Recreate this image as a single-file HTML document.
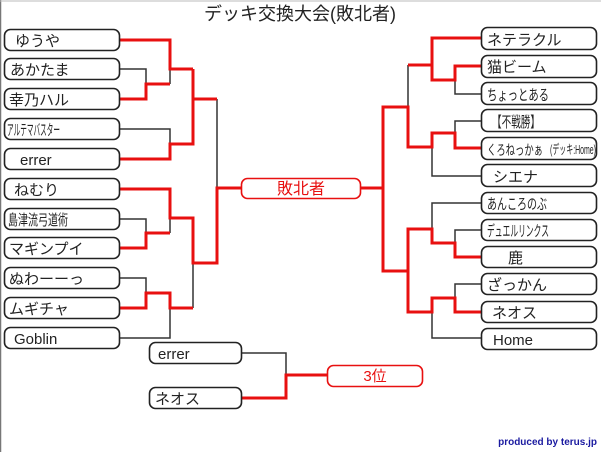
<!DOCTYPE html>
<html><head><meta charset="utf-8"><style>
html,body{margin:0;padding:0;background:#fff;}
svg{display:block;}
text{font-family:"Liberation Sans","Noto Sans CJK JP",sans-serif;}
</style></head><body>
<svg width="601" height="452" viewBox="0 0 601 452" xmlns="http://www.w3.org/2000/svg">
<rect x="0" y="0" width="601" height="452" fill="#fff"/>
<line x1="0.5" y1="0" x2="0.5" y2="452" stroke="#777" stroke-width="1.5"/>
<line x1="0" y1="1" x2="601" y2="1" stroke="#bbb" stroke-width="1"/>
<text x="300" y="20" font-size="18" text-anchor="middle" fill="#222">デッキ交換大会(敗北者)</text>

<g fill="none" stroke="#333" stroke-width="1.5">
<polyline points="120,69 146,69 146,84"/>
<polyline points="170,69 170,84"/>
<polyline points="193,69 193,99"/>
<polyline points="120,129 170,129 170,144"/>
<polyline points="217,99 217,188 241,188"/>
<polyline points="120,219 146,219 146,233"/>
<polyline points="170,218 170,233"/>
<polyline points="193,263 193,308"/>
<polyline points="120,278 146,278 146,293"/>
<polyline points="120,338 170,338 170,308"/>
<polyline points="481,94 455,94 455,80"/>
<polyline points="408,65 408,107"/>
<polyline points="481,121 455,121 455,133"/>
<polyline points="481,176 432,176 432,147"/>
<polyline points="383,188 383,271"/>
<polyline points="481,203 432,203 432,229"/>
<polyline points="481,230 455,230 455,243"/>
<polyline points="481,284 455,284 455,298"/>
<polyline points="481,338 432,338 432,312"/>
<polyline points="242,353 286,353 286,375"/>
</g>

<g fill="none" stroke="#e81010" stroke-width="3">
<polyline points="120,40 170,40 170,69 193,69"/>
<polyline points="120,99 146,99 146,84 170,84"/>
<polyline points="193,69 193,99"/>
<polyline points="193,99 217,99"/>
<polyline points="120,159 170,159 170,144 193,144 193,99"/>
<polyline points="120,189 170,189 170,218 193,218 193,263 217,263 217,188 241,188"/>
<polyline points="120,248 146,248 146,233 170,233"/>
<polyline points="120,308 146,308 146,293 170,293 170,308 193,308"/>
<polyline points="361,188 383,188 383,107 408,107 408,147 432,147 432,133 455,133 455,148 481,148"/>
<polyline points="481,38 432,38 432,80 455,80 455,66 481,66"/>
<polyline points="408,65 432,65"/>
<polyline points="383,188 383,271 408,271 408,229 432,229 432,243 455,243 455,257 481,257"/>
<polyline points="408,271 408,312 432,312 432,298 455,298 455,312 481,312"/>
<polyline points="242,398 286,398 286,375 327,375"/>
</g>

<g fill="#fff" stroke="#222" stroke-width="1.6">
<rect x="4.5" y="29.5" width="115" height="21" rx="6"/>
<rect x="4.5" y="58.5" width="115" height="21" rx="6"/>
<rect x="4.5" y="88.5" width="115" height="21" rx="6"/>
<rect x="4.5" y="118.5" width="115" height="21" rx="6"/>
<rect x="4.5" y="148.5" width="115" height="21" rx="6"/>
<rect x="4.5" y="178.5" width="115" height="21" rx="6"/>
<rect x="4.5" y="208.5" width="115" height="21" rx="6"/>
<rect x="4.5" y="237.5" width="115" height="21" rx="6"/>
<rect x="4.5" y="267.5" width="115" height="21" rx="6"/>
<rect x="4.5" y="297.5" width="115" height="21" rx="6"/>
<rect x="4.5" y="327.5" width="115" height="21" rx="6"/>

<rect x="481.5" y="27.5" width="115" height="22" rx="6"/>
<rect x="481.5" y="55.5" width="115" height="22" rx="6"/>
<rect x="481.5" y="82.5" width="115" height="22" rx="6"/>
<rect x="481.5" y="109.5" width="115" height="22" rx="6"/>
<rect x="481.5" y="137.5" width="115" height="22" rx="6"/>
<rect x="481.5" y="164.5" width="115" height="22" rx="6"/>
<rect x="481.5" y="192.5" width="115" height="21" rx="6"/>
<rect x="481.5" y="219.5" width="115" height="21" rx="6"/>
<rect x="481.5" y="246.5" width="115" height="21" rx="6"/>
<rect x="481.5" y="273.5" width="115" height="21" rx="6"/>
<rect x="481.5" y="301.5" width="115" height="21" rx="6"/>
<rect x="481.5" y="328.5" width="115" height="21" rx="6"/>

<rect x="149.5" y="342.5" width="92" height="21" rx="6"/>
<rect x="149.5" y="387.5" width="92" height="21" rx="6"/>
</g>
<g fill="#fff" stroke="#e81010" stroke-width="1.6">
<rect x="241.5" y="178.5" width="119" height="20" rx="6"/>
<rect x="327.5" y="365.5" width="95" height="21" rx="6"/>
</g>

<g font-size="15" fill="#222">
<text x="15" y="46">ゆうや</text>
<text x="10" y="75">あかたま</text>
<text x="9" y="105">幸乃ハル</text>
<text x="7" y="135" font-size="15" textLength="53" lengthAdjust="spacingAndGlyphs">アルテマバスター</text>
<text x="20" y="165">errer</text>
<text x="14" y="195">ねむり</text>
<text x="8" y="225" font-size="15" textLength="60" lengthAdjust="spacingAndGlyphs">島津流弓道術</text>
<text x="9" y="254">マギンプイ</text>
<text x="9" y="284">ぬわーーっ</text>
<text x="9" y="314">ムギチャ</text>
<text x="14" y="344">Goblin</text>

<text x="487" y="45">ネテラクル</text>
<text x="487" y="72">猫ビーム</text>
<text x="487" y="100" font-size="15" textLength="62" lengthAdjust="spacingAndGlyphs">ちょっとある</text>
<text x="492" y="127" font-size="15" textLength="48" lengthAdjust="spacingAndGlyphs">【不戦勝】</text>
<text x="487" y="155" font-size="14" textLength="56" lengthAdjust="spacingAndGlyphs">くろねっかぁ</text>
<text x="550" y="154" font-size="13" textLength="46" lengthAdjust="spacingAndGlyphs">(デッキ:Home)</text>
<text x="493" y="182">シエナ</text>
<text x="487" y="209" font-size="15" textLength="60" lengthAdjust="spacingAndGlyphs">あんころのぶ</text>
<text x="487" y="236" font-size="15" textLength="62" lengthAdjust="spacingAndGlyphs">デュエルリンクス</text>
<text x="508" y="263">鹿</text>
<text x="487" y="290">ざっかん</text>
<text x="492" y="318">ネオス</text>
<text x="493" y="345">Home</text>

<text x="158" y="359">errer</text>
<text x="155" y="404">ネオス</text>
</g>
<text x="301" y="194" font-size="16" fill="#e81010" text-anchor="middle">敗北者</text>
<text x="375" y="381" font-size="15" fill="#e81010" text-anchor="middle">3位</text>
<text x="597" y="445" font-size="10" font-weight="bold" fill="#1a1aa0" text-anchor="end">produced by terus.jp</text>
</svg>
</body></html>
